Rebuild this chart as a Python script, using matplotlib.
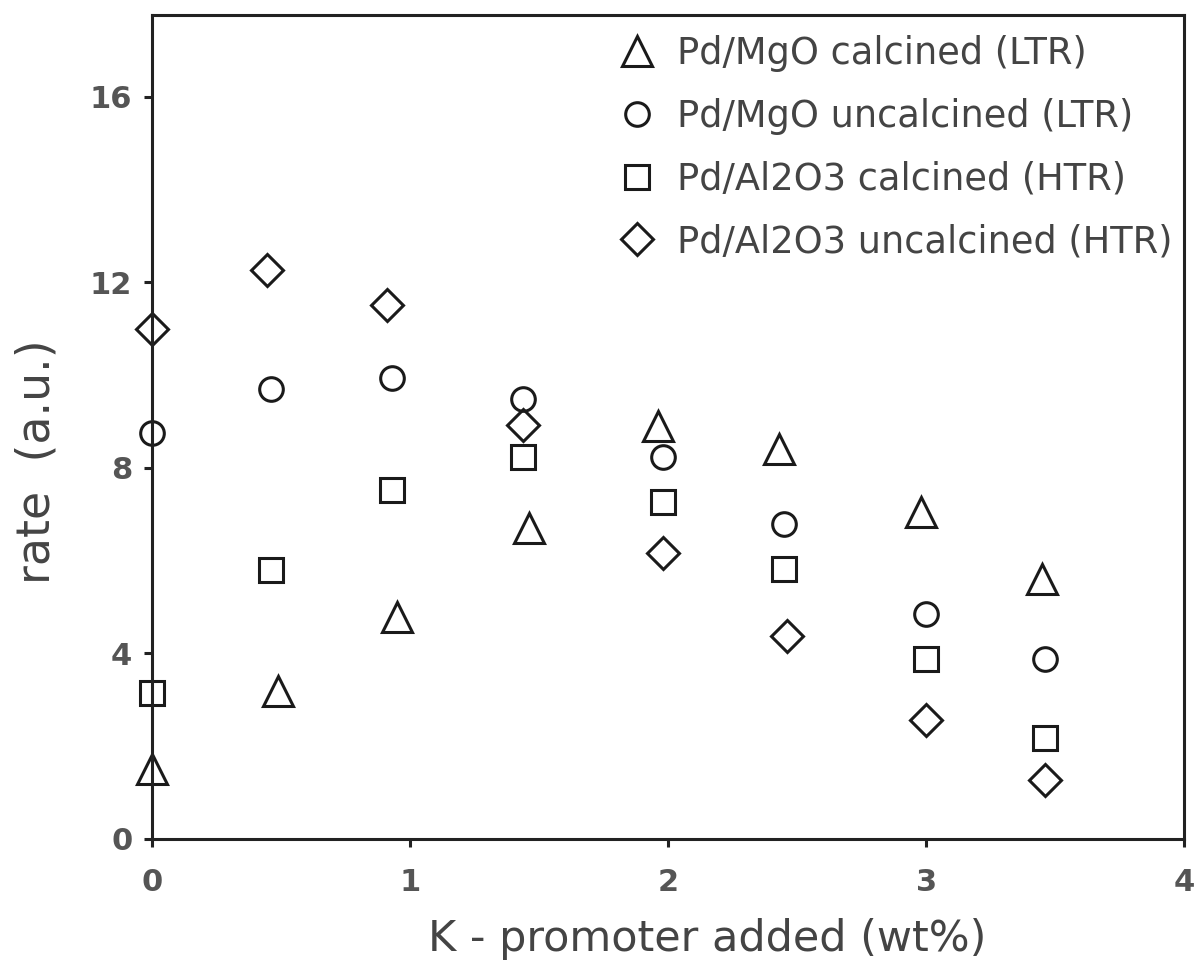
import matplotlib.pyplot as plt

# K-promoter loading (wt%) and rate (a.u.) for each catalyst
x_mgo_calc = [0.0, 0.49, 0.95, 1.46, 1.96, 2.43, 2.98, 3.45]
y_mgo_calc = [1.51, 3.18, 4.78, 6.70, 8.89, 8.40, 7.05, 5.60]

x_mgo_uncalc = [0.0, 0.46, 0.93, 1.44, 1.98, 2.45, 3.00, 3.46]
y_mgo_uncalc = [8.74, 9.69, 9.94, 9.47, 8.22, 6.79, 4.84, 3.87]

x_al_calc = [0.0, 0.46, 0.93, 1.44, 1.98, 2.45, 3.00, 3.46]
y_al_calc = [3.14, 5.80, 7.52, 8.22, 7.27, 5.81, 3.87, 2.18]

x_al_uncalc = [0.0, 0.445, 0.91, 1.44, 1.98, 2.46, 3.00, 3.46]
y_al_uncalc = [10.98, 12.26, 11.51, 8.92, 6.17, 4.37, 2.55, 1.27]

labels = ['Pd/MgO calcined (LTR)', 'Pd/MgO uncalcined (LTR)',
          'Pd/Al2O3 calcined (HTR)', 'Pd/Al2O3 uncalcined (HTR)']

fig = plt.figure(figsize=(11.95, 9.63), dpi=100)
ax = fig.add_axes([0.127, 0.129, 0.864, 0.855])

style = dict(linestyle='none', markerfacecolor='none', markeredgecolor='#1a1a1a',
             markeredgewidth=2.2, clip_on=False)
ax.plot(x_mgo_calc, y_mgo_calc, marker='^', markersize=22, label=labels[0], **style)
ax.plot(x_mgo_uncalc, y_mgo_uncalc, marker='o', markersize=17, label=labels[1], **style)
ax.plot(x_al_calc, y_al_calc, marker='s', markersize=17, label=labels[2], **style)
ax.plot(x_al_uncalc, y_al_uncalc, marker='D', markersize=16.5, label=labels[3], **style)

ax.set_xlim(0, 4)
ax.set_ylim(0, 17.75)
ax.set_xticks([0, 1, 2, 3, 4])
ax.set_yticks([0, 4, 8, 12, 16])

for side in ['left', 'bottom', 'right', 'top']:
    ax.spines[side].set_linewidth(2.2)
    ax.spines[side].set_color('#222222')

ax.tick_params(direction='out', length=6, width=2.2, color='#222222',
               labelsize=22, labelcolor='#555555')
ax.tick_params(axis='x', pad=15)
ax.tick_params(axis='y', pad=8)
for lbl in ax.get_xticklabels() + ax.get_yticklabels():
    lbl.set_fontweight('bold')

ax.set_xlabel('K - promoter added (wt%)', fontsize=31, color='#444444')
ax.xaxis.set_label_coords(0.538, -0.096)
ax.set_ylabel('rate  (a.u.)', fontsize=33, color='#444444')
ax.yaxis.set_label_coords(-0.089, 0.4575)

ax.legend(loc='upper right', frameon=False, fontsize=26.5, labelcolor='#444444',
          handletextpad=0.1, labelspacing=0.7, borderaxespad=0.0,
          bbox_to_anchor=(1.003, 0.994))

plt.savefig('out.png', dpi=100)
